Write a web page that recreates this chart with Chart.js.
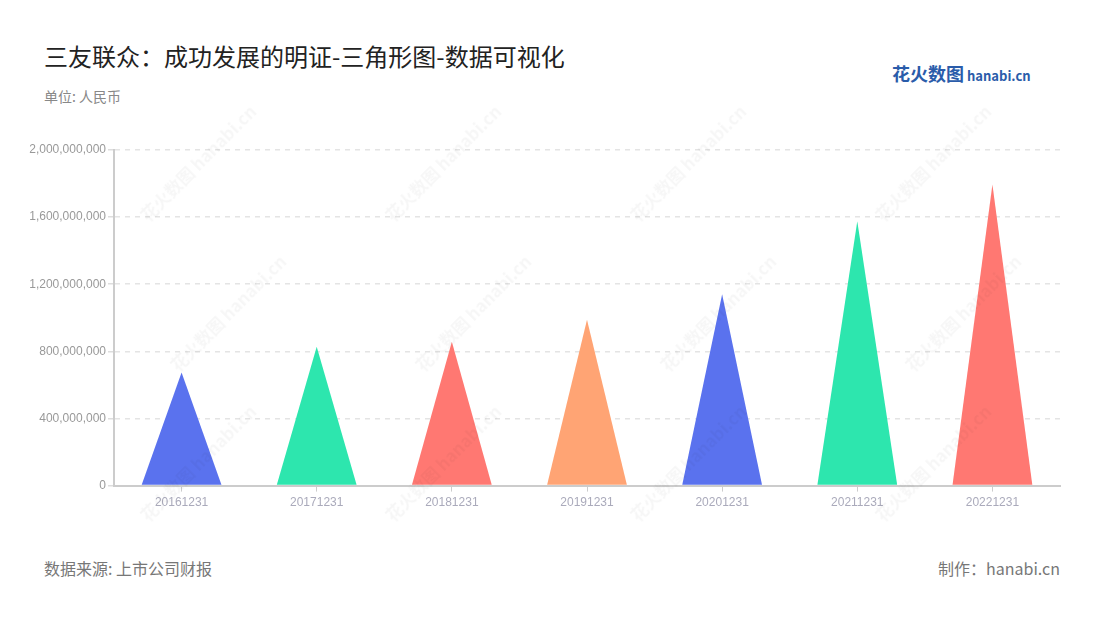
<!DOCTYPE html>
<html>
<head>
<meta charset="utf-8">
<script src="https://cdn.jsdelivr.net/npm/chart.js@4/dist/chart.umd.min.js"></script>
<style>
  body { margin: 0; background: #fff; font-family: "Noto Sans CJK SC", "Noto Sans", sans-serif; }
  #wrap { position: relative; width: 1100px; height: 620px; overflow: hidden; }
  .title { position: absolute; left: 44px; top: 38px; font-size: 24px; color: #222; }
  .unit { position: absolute; left: 44px; top: 86px; font-size: 14px; color: #888; }
  .logo { position: absolute; left: 892px; top: 60px; font-size: 18px; font-weight: bold; color: #2a5caa; white-space: nowrap; }
  .logo small { font-size: 13px; font-weight: bold; margin-left: 3px; color: #2a5caa; }
  .src { position: absolute; left: 44px; top: 556px; font-size: 16px; color: #777; }
  .by { position: absolute; right: 40px; top: 556px; font-size: 16px; color: #777; }
  .wm { position: absolute; font-size: 17px; font-weight: bold; color: rgba(0,0,0,0.035); transform: rotate(-45deg); white-space: nowrap; pointer-events: none; }
  #box { position: absolute; left: 0; top: 130px; width: 1100px; height: 384px; }
</style>
</head>
<body>
<div id="wrap">
  <div class="title">三友联众：成功发展的明证-三角形图-数据可视化</div>
  <div class="unit">单位: 人民币</div>
  <div class="logo">花火数图<small>hanabi.cn</small></div>
  <div id="box"><canvas id="c"></canvas></div>
  <div class="src">数据来源: 上市公司财报</div>
  <div class="by">制作：hanabi.cn</div>
</div>
<script>
var years = ['20161231', '20171231', '20181231', '20191231', '20201231', '20211231', '20221231'];
var revenue = [674000000, 828000000, 858000000, 988000000, 1140000000, 1576000000, 1795000000];
var colors = ['#5a72ee', '#2de6ae', '#ff7872', '#ffa474', '#5a72ee', '#2de6ae', '#ff7872'];
var yTicks = [0, 400000000, 800000000, 1200000000, 1600000000, 2000000000];

// watermarks
var wrap = document.getElementById('wrap');
[[120, 150], [365, 150], [610, 150], [855, 150], [150, 300], [395, 300], [640, 300], [885, 300],
 [120, 450], [365, 450], [610, 450], [855, 450]].forEach(function (p) {
    var d = document.createElement('div');
    d.className = 'wm';
    d.style.left = p[0] + 'px';
    d.style.top = p[1] + 'px';
    d.textContent = '花火数图 hanabi.cn';
    wrap.appendChild(d);
});

var triangles = {
    id: 'triangles',
    afterDatasetsDraw: function (chart) {
        var ctx = chart.ctx;
        var meta = chart.getDatasetMeta(0);
        ctx.save();
        meta.data.forEach(function (bar, i) {
            var p = bar.getProps(['x', 'y', 'base', 'width']);
            ctx.beginPath();
            ctx.moveTo(p.x - p.width / 2, p.base);
            ctx.lineTo(p.x, p.y);
            ctx.lineTo(p.x + p.width / 2, p.base);
            ctx.closePath();
            ctx.fillStyle = colors[i];
            ctx.fill();
        });
        ctx.restore();
    }
};

new Chart(document.getElementById('c'), {
    type: 'bar',
    data: {
        labels: years,
        datasets: [{
            data: revenue,
            backgroundColor: 'rgba(0,0,0,0)',
            categoryPercentage: 1,
            barPercentage: 0.59
        }]
    },
    options: {
        responsive: true,
        maintainAspectRatio: false,
        animation: false,
        layout: { padding: { left: 0, right: 40, top: 20, bottom: 0 } },
        plugins: { legend: { display: false }, tooltip: { enabled: false } },
        scales: {
            x: {
                grid: { display: true, offset: false, drawOnChartArea: false, tickLength: 6, color: '#ccc' },
                border: { color: '#ccc', width: 2 },
                ticks: { color: '#aab', font: { size: 12 }, padding: 4 }
            },
            y: {
                min: 0,
                max: 2000000000,
                afterBuildTicks: function (s) { s.ticks = yTicks.map(function (v) { return { value: v }; }); },
                afterFit: function (s) { s.width = 114; },
                grid: { color: '#e4e4e4', lineWidth: 1.5, tickLength: 6, tickColor: '#ddd' },
                border: { color: '#ccc', width: 2, dash: [5, 5] },
                ticks: {
                    color: '#999',
                    font: { size: 12 },
                    padding: 2,
                    callback: function (v) { return v.toLocaleString('en-US'); }
                }
            }
        }
    },
    plugins: [triangles]
});
</script>
</body>
</html>
